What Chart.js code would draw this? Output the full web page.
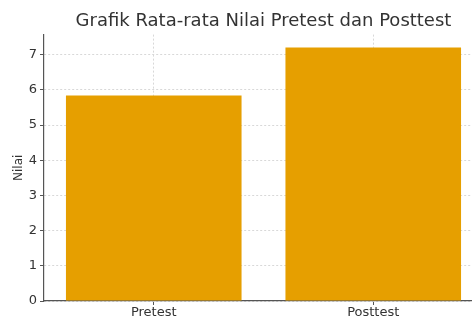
<!DOCTYPE html>
<html>
<head>
<meta charset="utf-8">
<script src="https://cdn.jsdelivr.net/npm/chart.js@4"></script>
<style>
  html, body { margin: 0; padding: 0; background: #fff; overflow: hidden; }
  #wrap { position: absolute; left: 0; top: 0; width: 500px; height: 318px; }
</style>
</head>
<body>
<div id="wrap"><canvas id="chart"></canvas></div>
<script>
// data
const categories = ['Pretest', 'Posttest'];
const meanScores = [5.84, 7.2];
const yTicks = [0, 1, 2, 3, 4, 5, 6, 7];

const barColor = '#E69F00';
const textColor = '#333';
const font = 'DejaVu Sans';

const ctx = document.getElementById('chart').getContext('2d');
new Chart(ctx, {
    type: 'bar',
    data: {
        labels: categories,
        datasets: [{
            label: 'Rata-rata',
            data: meanScores,
            backgroundColor: barColor,
            borderWidth: 0,
            barPercentage: 0.8,
            categoryPercentage: 1.0
        }]
    },
    options: {
        responsive: true,
        maintainAspectRatio: false,
        animation: false,
        layout: { padding: { left: 12, right: 17, top: 0, bottom: 0 } },
        plugins: {
            legend: { display: false },
            tooltip: { enabled: false },
            title: {
                display: true,
                fullSize: false,
                text: 'Grafik Rata-rata Nilai Pretest dan Posttest',
                color: textColor,
                font: { family: font, size: 18, weight: 'normal' },
                padding: { top: 11, bottom: 2 }
            }
        },
        scales: {
            x: {
                offset: true,
                grid: {
                    color: '#d8d8d8',
                    offset: false,
                    tickColor: '#555',
                    tickBorderDash: [],
                    tickLength: 4
                },
                border: { color: '#555', width: 1.2, dash: [2, 2] },
                ticks: {
                    color: textColor,
                    font: { family: font, size: 13 },
                    padding: 0
                },
                afterFit: function(scale) { scale.height = 17; }
            },
            y: {
                min: 0,
                max: 7.57,
                grid: {
                    color: '#d8d8d8',
                    tickColor: '#555',
                    tickBorderDash: [],
                    tickLength: 4
                },
                border: { color: '#555', width: 1.2, dash: [2, 2] },
                ticks: {
                    color: textColor,
                    font: { family: font, size: 13 },
                    padding: 3
                },
                afterBuildTicks: function(scale) {
                    scale.ticks = yTicks.map(v => ({ value: v }));
                },
                title: {
                    display: true,
                    text: 'Nilai',
                    color: textColor,
                    font: { family: font, size: 12 },
                    padding: { top: 0, bottom: 0 }
                },
                afterFit: function(scale) { scale.width = 32; }
            }
        }
    }
});
</script>
</body>
</html>
